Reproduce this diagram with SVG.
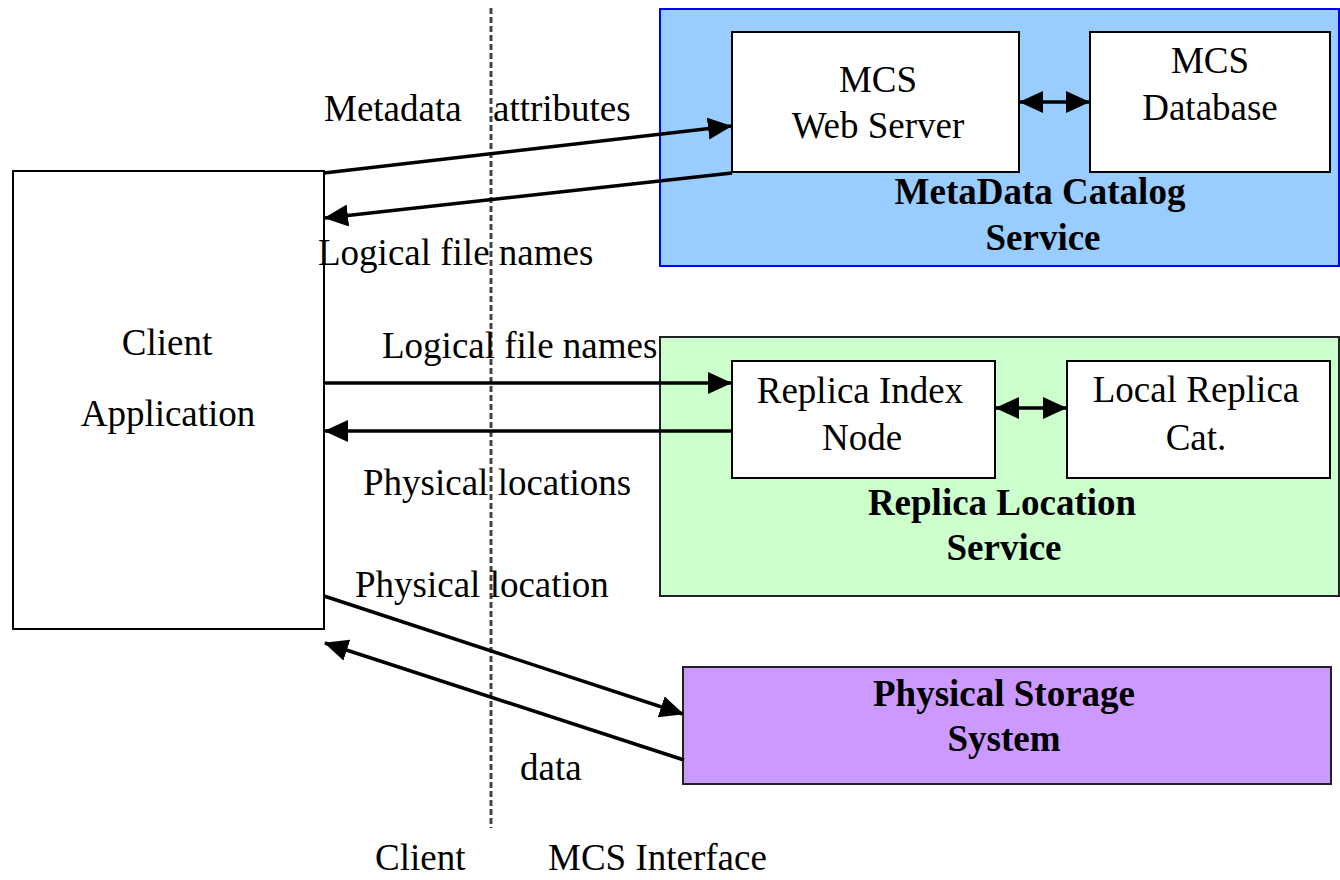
<svg xmlns="http://www.w3.org/2000/svg" width="1340" height="880" viewBox="0 0 1340 880">
<style>
text{font-family:"Liberation Serif","Times New Roman",serif;font-size:37px;fill:#000}
.c{text-anchor:middle}
.b{font-weight:bold}
.box{fill:#fff;stroke:#000;stroke-width:2}
.conn{stroke:#000;stroke-width:3.5;fill:none}
</style>
<defs>
<marker id="ah" viewBox="0 0 24 22" refX="23" refY="11" markerWidth="24" markerHeight="22" markerUnits="userSpaceOnUse" orient="auto-start-reverse">
<path d="M0,0 L24,11 L0,22 Z" fill="#000"/>
</marker>
</defs>
<rect width="1340" height="880" fill="#fff"/>
<g id="mcs-service">
<rect x="660" y="9" width="679" height="257" fill="#99ccff" stroke="#0000ff" stroke-width="2"/>
<text class="c b" x="1040" y="204">MetaData Catalog</text>
<text class="c b" x="1043" y="250">Service</text>
</g>
<g id="mcs-web-server">
<rect class="box" x="732" y="32" width="287" height="140"/>
<text class="c" x="878" y="92">MCS</text>
<text class="c" x="878" y="138">Web Server</text>
</g>
<g id="mcs-database">
<rect class="box" x="1090" y="32" width="240" height="140"/>
<text class="c" x="1210" y="73">MCS</text>
<text class="c" x="1210" y="120">Database</text>
</g>
<g id="rls">
<rect x="660" y="337" width="679" height="259" fill="#ccffcc" stroke="#222" stroke-width="2"/>
<text class="c b" x="1002" y="515">Replica Location</text>
<text class="c b" x="1004" y="560">Service</text>
</g>
<g id="replica-index-node">
<rect class="box" x="732" y="361" width="263" height="117"/>
<text class="c" x="860" y="403">Replica Index</text>
<text class="c" x="862" y="450">Node</text>
</g>
<g id="local-replica-cat">
<rect class="box" x="1067" y="361" width="263" height="117"/>
<text class="c" x="1196" y="402">Local Replica</text>
<text class="c" x="1196" y="450">Cat.</text>
</g>
<g id="physical-storage">
<rect x="683" y="667" width="648" height="117" fill="#cc99ff" stroke="#222" stroke-width="2"/>
<text class="c b" x="1004" y="706">Physical Storage</text>
<text class="c b" x="1004" y="751">System</text>
</g>
<g id="client-app">
<rect class="box" x="13" y="171" width="311" height="458" stroke-width="1.5"/>
<text class="c" x="167" y="355">Client</text>
<text class="c" x="168" y="426">Application</text>
</g>
<g id="divider">
<line x1="491" y1="8" x2="491" y2="828" stroke="#444" stroke-width="3" stroke-dasharray="6,3"/>
</g>
<g id="connectors">
<line class="conn" x1="324" y1="173" x2="731" y2="126" marker-end="url(#ah)"/>
<line class="conn" x1="732" y1="173" x2="325" y2="218" marker-end="url(#ah)"/>
<line class="conn" x1="323" y1="383" x2="731" y2="383" marker-end="url(#ah)"/>
<line class="conn" x1="733" y1="431" x2="325" y2="431" marker-end="url(#ah)"/>
<line class="conn" x1="324" y1="596" x2="683" y2="714" marker-end="url(#ah)"/>
<line class="conn" x1="684" y1="760" x2="325" y2="643" marker-end="url(#ah)"/>
<line class="conn" x1="1020" y1="102" x2="1089" y2="102" marker-start="url(#ah)" marker-end="url(#ah)"/>
<line class="conn" x1="996" y1="408" x2="1066" y2="408" marker-start="url(#ah)" marker-end="url(#ah)"/>
</g>
<g id="labels">
<text x="324" y="121">Metadata<tspan x="493">attributes</tspan></text>
<text x="318" y="265">Logical file names</text>
<text x="382" y="358">Logical file names</text>
<text x="363" y="495">Physical locations</text>
<text x="355" y="597">Physical location</text>
<text x="520" y="780">data</text>
<text x="375" y="870">Client</text>
<text x="548" y="870">MCS Interface</text>
</g>
</svg>
